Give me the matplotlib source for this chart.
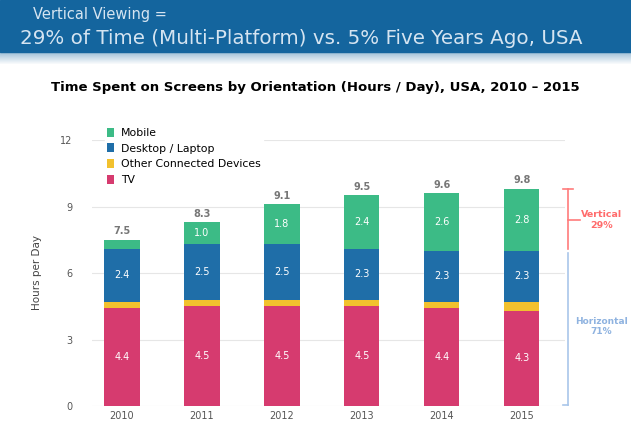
import matplotlib.pyplot as plt
import numpy as np
from matplotlib.patches import Rectangle

years = ['2010', '2011', '2012', '2013', '2014', '2015']
tv = [4.4, 4.5, 4.5, 4.5, 4.4, 4.3]
other = [0.3, 0.3, 0.3, 0.3, 0.3, 0.4]
desktop = [2.4, 2.5, 2.5, 2.3, 2.3, 2.3]
mobile = [0.4, 1.0, 1.8, 2.4, 2.6, 2.8]

series = [
    ('TV', tv, '#d63b6f'),
    ('Other Connected Devices', other, '#f2c12e'),
    ('Desktop / Laptop', desktop, '#1f6ea8'),
    ('Mobile', mobile, '#3cbb86'),
]

fig = plt.figure(figsize=(6.31, 4.46), dpi=100)

# header band
fig.add_artist(Rectangle((0, 1 - 52 / 446), 1, 52 / 446, transform=fig.transFigure,
                         color='#14659e', zorder=0))
for i in range(12):
    fig.add_artist(Rectangle((0, 1 - (53 + i) / 446), 1, 1 / 446, transform=fig.transFigure,
                             color='#14659e', alpha=0.4 * (1 - i / 12), lw=0, zorder=0))
fig.text(0.053, 1 - 15 / 446, 'Vertical Viewing =', color='#d5e4f1', fontsize=10.5,
         va='center', ha='left')
fig.text(0.032, 1 - 39 / 446, '29% of Time (Multi-Platform) vs. 5% Five Years Ago, USA',
         color='#d5e4f1', fontsize=14.3, va='center', ha='left')
fig.text(0.5, 1 - 87 / 446,
         'Time Spent on Screens by Orientation (Hours / Day), USA, 2010 \u2013 2015',
         fontsize=9.5, fontweight='bold', ha='center', va='center')

ax = fig.add_axes([92 / 631, 40 / 446, 473 / 631, 266 / 446])
x = np.arange(len(years))
bottom = np.zeros(len(years))
handles = {}
for name, vals, col in series:
    vals = np.array(vals)
    bars = ax.bar(x, vals, 0.44, bottom=bottom, color=col, zorder=3)
    handles[name] = bars
    for xi, b, v in zip(x, bottom, vals):
        if v >= 0.9:
            ax.text(xi, b + v / 2, f'{v:.1f}', color='white', fontsize=7,
                    ha='center', va='center', zorder=4)
    bottom = bottom + vals

for xi, t in zip(x, bottom):
    ax.text(xi, t + 0.15, f'{t:.1f}', color='#777777', fontsize=7, fontweight='bold',
            ha='center', va='bottom')

ax.set_xlim(-0.375, 5.54)
ax.set_ylim(0, 12)
ax.set_yticks([0, 3, 6, 9, 12])
ax.set_xticks(x)
ax.set_xticklabels(years)
ax.tick_params(axis='both', length=0, labelsize=7, colors='#555555')
ax.tick_params(axis='y', pad=14)
ax.grid(axis='y', color='#e6e6e6', lw=0.8, zorder=0)
for s in ax.spines.values():
    s.set_visible(False)
ax.set_ylabel('Hours per Day', fontsize=7.5, color='#444444', labelpad=13)

leg_order = ['Mobile', 'Desktop / Laptop', 'Other Connected Devices', 'TV']
ax.legend([handles[n] for n in leg_order], leg_order, loc='upper left',
          bbox_to_anchor=(0.015, 1.075), frameon=True, framealpha=1, edgecolor='white',
          fontsize=7.8, handlelength=0.7, handleheight=0.9, labelspacing=0.5,
          borderpad=0.2, handletextpad=0.6)

# orientation brackets
top = bottom[-1]
split = top - mobile[-1]
bx = 5.575
ax.plot([bx, bx], [split + 0.1, top], color='#ff7b7b', lw=1.2, clip_on=False)
ax.plot([bx - 0.06, bx + 0.06], [top, top], color='#ff7b7b', lw=1.2, clip_on=False)
ax.plot([bx, bx + 0.15], [(split + top) / 2, (split + top) / 2], color='#ff7b7b', lw=1.2,
        clip_on=False)
ax.text(bx + 0.42, (split + top) / 2, 'Vertical\n29%', color='#ff6b6b', fontsize=6.8,
        fontweight='bold', ha='center', va='center')
ax.plot([bx, bx], [0.05, split - 0.1], color='#a9c6ea', lw=1.2, clip_on=False)
ax.plot([bx - 0.06, bx], [0.05, 0.05], color='#a9c6ea', lw=1.2, clip_on=False)
ax.text(bx + 0.42, split / 2 + 0.1, 'Horizontal\n71%', color='#8fb3e0', fontsize=6.5,
        fontweight='bold', ha='center', va='center')

fig.savefig('out.png', dpi=100)
